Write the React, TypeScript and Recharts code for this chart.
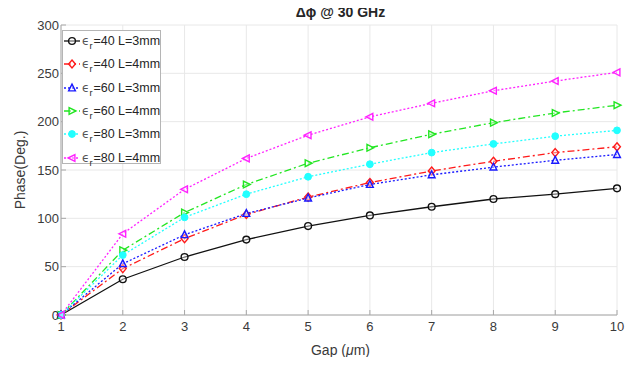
import { LineChart, Line, XAxis, YAxis, CartesianGrid } from 'recharts';

const gap = [1, 2, 3, 4, 5, 6, 7, 8, 9, 10];
const er40L3 = [0, 37, 60, 78, 92, 103, 112, 120, 125, 131];
const er40L4 = [0, 48, 79, 104, 122, 137, 149, 159, 168, 174];
const er60L3 = [0, 53, 83, 105, 121, 135, 145, 153, 160, 166];
const er60L4 = [0, 67, 106, 135, 157, 173, 187, 199, 209, 217];
const er80L3 = [0, 62, 101, 125, 143, 156, 168, 177, 185, 191];
const er80L4 = [0, 84, 130, 162, 186, 205, 219, 232, 242, 251];
const xTicks = [1, 2, 3, 4, 5, 6, 7, 8, 9, 10];
const yTicks = [0, 50, 100, 150, 200, 250, 300];

const data = gap.map((g, i) => ({
  gap: g,
  a: er40L3[i],
  b: er40L4[i],
  c: er60L3[i],
  d: er60L4[i],
  e: er80L3[i],
  f: er80L4[i],
}));

type Shape = 'circle' | 'diamond' | 'up' | 'right' | 'dot' | 'left';

const series: { key: string; er: string; L: string; color: string; dash?: string; shape: Shape }[] = [
  { key: 'a', er: '40', L: '3mm', color: '#111111', shape: 'circle' },
  { key: 'b', er: '40', L: '4mm', color: '#ff1a1a', dash: '7 3 2 3', shape: 'diamond' },
  { key: 'c', er: '60', L: '3mm', color: '#1a1aff', dash: '2 2', shape: 'up' },
  { key: 'd', er: '60', L: '4mm', color: '#22e622', dash: '7 3 2 3', shape: 'right' },
  { key: 'e', er: '80', L: '3mm', color: '#22ffff', dash: '2 2', shape: 'dot' },
  { key: 'f', er: '80', L: '4mm', color: '#ff22ff', dash: '2 2', shape: 'left' },
];

function Marker({ cx, cy, shape, color }: { cx: number; cy: number; shape: Shape; color: string }) {
  const s = 3.4;
  const common = { stroke: color, strokeWidth: 1.4, fill: 'rgba(255,255,255,0.4)' };
  switch (shape) {
    case 'circle':
      return <circle cx={cx} cy={cy} r={s} {...common} />;
    case 'dot':
      return <circle cx={cx} cy={cy} r={s} fill={color} stroke={color} />;
    case 'diamond':
      return <polygon points={`${cx},${cy - s - 0.6} ${cx + s},${cy} ${cx},${cy + s + 0.6} ${cx - s},${cy}`} {...common} />;
    case 'up':
      return <polygon points={`${cx},${cy - s - 0.5} ${cx + s},${cy + s - 0.5} ${cx - s},${cy + s - 0.5}`} {...common} />;
    case 'right':
      return <polygon points={`${cx + s + 0.5},${cy} ${cx - s + 0.5},${cy - s} ${cx - s + 0.5},${cy + s}`} {...common} />;
    case 'left':
      return <polygon points={`${cx - s - 0.5},${cy} ${cx + s - 0.5},${cy - s} ${cx + s - 0.5},${cy + s}`} {...common} />;
  }
  return null;
}

const font = '"Liberation Sans", Arial, sans-serif';
const tickStyle = { fill: '#3a3a3a', fontSize: 13, fontFamily: font };

function LegendBox() {
  return (
    <div
      style={{
        position: 'absolute',
        left: 62,
        top: 30,
        width: 99,
        height: 134,
        background: '#fff',
        border: '1px solid #b5b5b5',
        fontFamily: font,
        fontSize: 12.5,
        color: '#262626',
        boxSizing: 'border-box',
      }}
    >
      {series.map((s, i) => (
        <div
          key={s.key}
          style={{ position: 'absolute', left: 1, top: 1 + i * 23.3, height: 18, display: 'flex', alignItems: 'center', whiteSpace: 'nowrap' }}
        >
          <svg width={17} height={14} style={{ marginRight: 1 }}>
            <line x1={0} y1={7} x2={16} y2={7} stroke={s.color} strokeWidth={1.3} strokeDasharray={s.dash} />
            <Marker cx={8} cy={7} shape={s.shape} color={s.color} />
          </svg>
          <span style={{ fontFamily: '"DejaVu Sans", sans-serif', fontSize: 12, color: '#555' }}>ϵ</span>
          <span style={{ fontSize: 9, position: 'relative', top: 5, marginRight: 1 }}>r</span>
          <span>={s.er} L={s.L}</span>
        </div>
      ))}
    </div>
  );
}

const labelStyle = { position: 'absolute' as const, fontFamily: font, color: '#3a3a3a', fontSize: 14, whiteSpace: 'nowrap' as const, lineHeight: '16px' };

export default function App() {
  return (
    <div style={{ position: 'relative', width: 633, height: 365, background: '#fff', margin: -8 }}>
      <LineChart width={633} height={365} data={data} margin={{ top: 25, right: 16, bottom: 20, left: 1 }}>
        <CartesianGrid stroke="#e8e8e8" strokeWidth={1} />
        <XAxis
          dataKey="gap"
          type="number"
          domain={[1, 10]}
          ticks={xTicks}
          height={30}
          stroke="#a8a8a8"
          tick={tickStyle}
          tickSize={-5}
          tickMargin={12}
          interval={0}
        />
        <XAxis xAxisId="top" dataKey="gap" type="number" domain={[1, 10]} ticks={xTicks} orientation="top" height={0} stroke="#a8a8a8" tick={false} tickSize={-5} />
        <YAxis
          type="number"
          domain={[0, 300]}
          ticks={yTicks}
          width={60}
          stroke="#a8a8a8"
          tick={tickStyle}
          tickSize={-5}
          tickMargin={7}
          interval={0}
        />
        <YAxis yAxisId="right" type="number" domain={[0, 300]} ticks={yTicks} orientation="right" width={0} stroke="#a8a8a8" tick={false} tickSize={-5} />
        {series.map((s) => (
          <Line
            key={s.key}
            dataKey={s.key}
            stroke={s.color}
            strokeWidth={1.3}
            strokeDasharray={s.dash}
            isAnimationActive={false}
            type="linear"
            dot={(p: any) => <Marker key={`${s.key}-${p.index}`} cx={p.cx} cy={p.cy} shape={s.shape} color={s.color} />}
            activeDot={false}
          />
        ))}
      </LineChart>
      <div style={{ ...labelStyle, left: 0, width: 633, top: 4, paddingLeft: 48, boxSizing: 'border-box', textAlign: 'center', fontWeight: 'bold', fontSize: 14, color: '#262626' }}>
        Δϕ @ 30 GHz
      </div>
      <div style={{ ...labelStyle, left: 0, width: 633, top: 342, paddingLeft: 48, boxSizing: 'border-box', textAlign: 'center' }}>
        Gap (<span style={{ fontStyle: 'italic' }}>μ</span>m)
      </div>
      <div style={{ ...labelStyle, left: 20, top: 170, transform: 'translate(-50%, -50%) rotate(-90deg)' }}>Phase(Deg.)</div>
      <LegendBox />
    </div>
  );
}
